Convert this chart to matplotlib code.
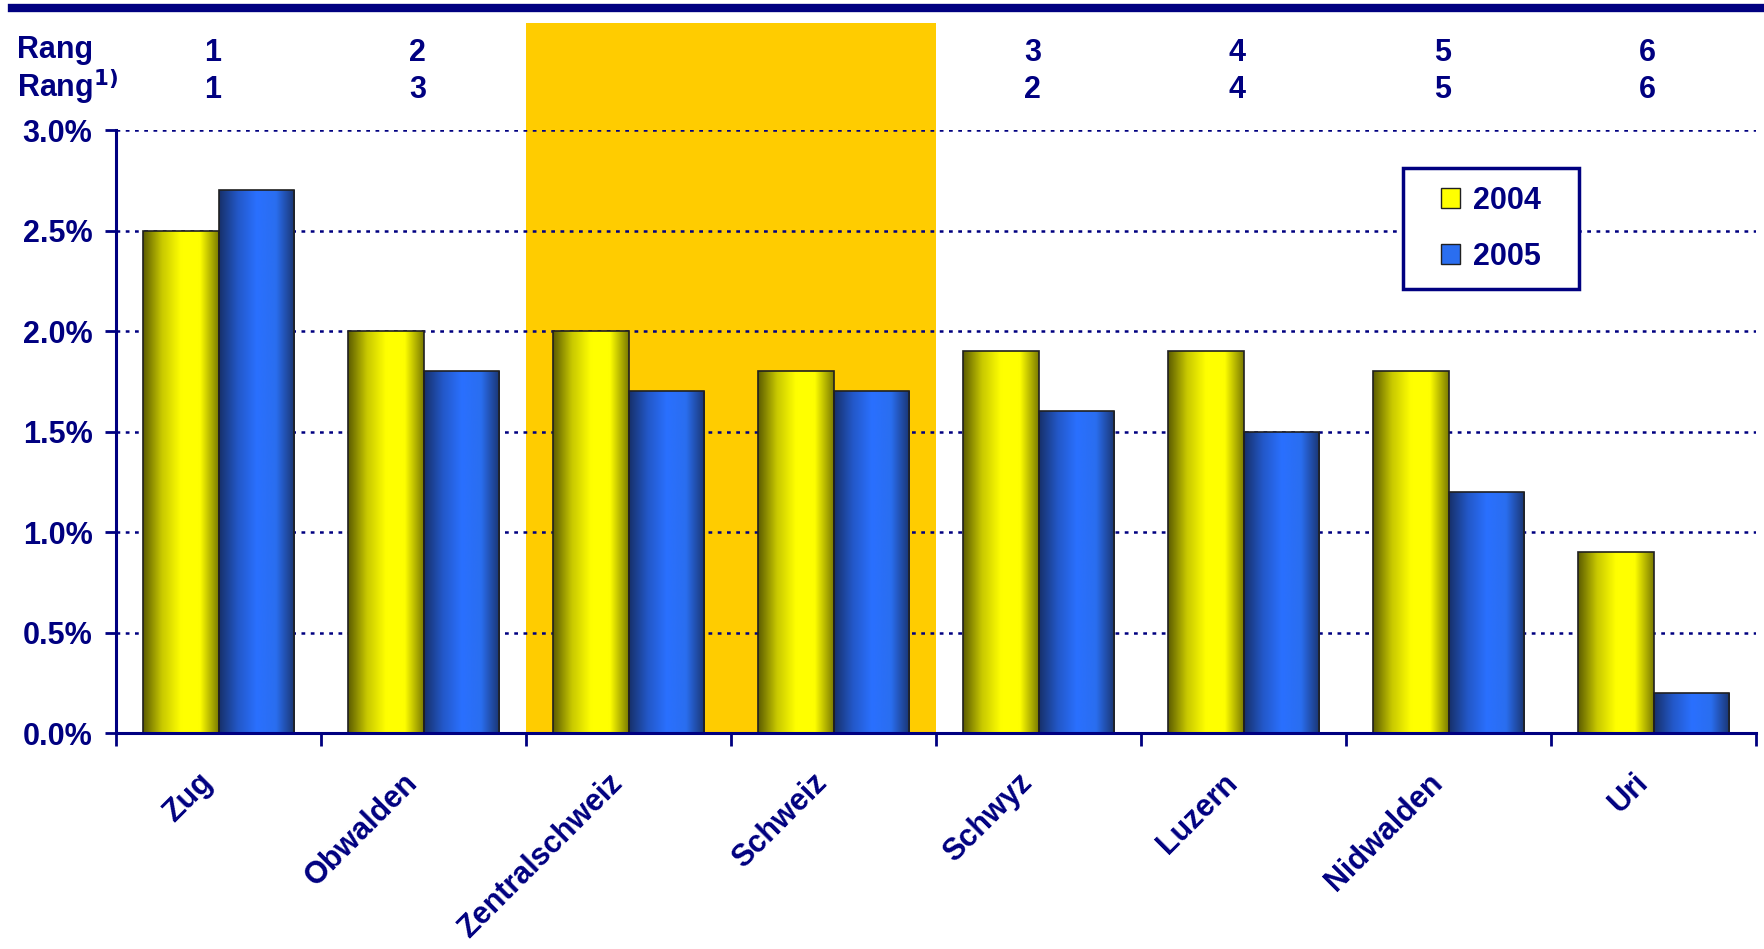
import numpy as np
import matplotlib.pyplot as plt
from matplotlib.patches import Rectangle, Patch
from matplotlib.colors import LinearSegmentedColormap

plt.rcParams['font.family'] = ['Liberation Sans', 'DejaVu Sans']

categories = ["Zug", "Obwalden", "Zentralschweiz", "Schweiz", "Schwyz", "Luzern", "Nidwalden", "Uri"]
v2004 = [2.5, 2.0, 2.0, 1.8, 1.9, 1.9, 1.8, 0.9]
v2005 = [2.7, 1.8, 1.7, 1.7, 1.6, 1.5, 1.2, 0.2]
rang = ["1", "2", "", "", "3", "4", "5", "6"]
rang1 = ["1", "3", "", "", "2", "4", "5", "6"]
yticks = [0.0, 0.5, 1.0, 1.5, 2.0, 2.5, 3.0]

navy = "#000080"
fs = 22
cmap_y = LinearSegmentedColormap.from_list("y", ["#5c5c00", "#c8c800", "#ffff00", "#ffff00", "#7a7a00"])
cmap_b = LinearSegmentedColormap.from_list("b", ["#17306a", "#2358c8", "#2a70ff", "#2a6ef0", "#1a3470"])

fig = plt.figure(figsize=(17.64, 9.49), dpi=100)
ax = fig.add_axes([0.0658, 0.2276, 0.9297, 0.6354])

x = np.arange(len(categories))
w = 0.368

# highlighted block behind Zentralschweiz / Schweiz
ax.add_patch(Rectangle((1.5, 0), 2.0, 3.53, facecolor="#ffcc00", edgecolor="none",
                       zorder=0, clip_on=False))

for yv in yticks[1:]:
    ax.axhline(yv, color=navy, lw=1.8, ls=(0, (1.5, 2.2)), zorder=1)

bars1 = ax.bar(x - w / 2, v2004, w, color="#ffff00", edgecolor="#202020", lw=1.2, zorder=3)
bars2 = ax.bar(x + w / 2, v2005, w, color="#2a6ef0", edgecolor="#202020", lw=1.2, zorder=3)

grad = np.linspace(0, 1, 256).reshape(1, -1)
for bars, cm in ((bars1, cmap_y), (bars2, cmap_b)):
    for b in bars:
        x0, h = b.get_x(), b.get_height()
        im = ax.imshow(grad, cmap=cm, extent=[x0, x0 + b.get_width(), 0, h],
                       aspect="auto", zorder=2.5, interpolation="bicubic")
        im.set_clip_path(b)
        b.set_facecolor("none")

ax.set_xlim(-0.5, 7.5)
ax.set_ylim(0, 3.0)

ax.set_yticks(yticks)
ax.set_yticklabels([f"{t:.1f}%" for t in yticks])
ax.set_xticks(x)
ax.set_xticklabels(categories, rotation=45, ha="right")
ax.set_xticks(np.arange(-0.5, 8.0, 1.0), minor=True)
ax.tick_params(axis="x", which="major", length=0, pad=25)
ax.tick_params(axis="x", which="minor", length=9, width=2, color=navy, direction="out")
ax.tick_params(axis="y", length=8, width=2, color=navy, direction="out", pad=9)
for lab in ax.get_xticklabels() + ax.get_yticklabels():
    lab.set_fontsize(fs)
    lab.set_fontweight("bold")
    lab.set_color(navy)

for s in ("top", "right"):
    ax.spines[s].set_visible(False)
for s in ("left", "bottom"):
    ax.spines[s].set_color(navy)
    ax.spines[s].set_linewidth(2.2)
    ax.spines[s].set_zorder(4)

# rank rows above plot
trans = ax.get_xaxis_transform()
for i in range(len(categories)):
    ax.text(x[i] - 0.03, 1.128, rang[i], transform=trans, ha="center", va="center",
            fontsize=fs, fontweight="bold", color=navy)
    ax.text(x[i] - 0.03, 1.067, rang1[i], transform=trans, ha="center", va="center",
            fontsize=fs, fontweight="bold", color=navy)
fig.text(0.0096, 0.947, "Rang", ha="left", va="center", fontsize=fs, fontweight="bold", color=navy)
fig.text(0.0096, 0.909, r"Rang$^{\mathbf{1)}}$", ha="left", va="center", fontsize=fs,
         fontweight="bold", color=navy)

# top rule
fig.add_artist(plt.Line2D([0.007, 1.0], [0.9915, 0.9915], color=navy, lw=6))

# legend box
ax.add_patch(Rectangle((0.785, 0.736), 0.107, 0.201, transform=ax.transAxes,
                       facecolor="white", edgecolor=navy, lw=2.5, zorder=5))
handles = [Patch(facecolor="#ffff00", edgecolor="#202020"),
           Patch(facecolor="#2a6ef0", edgecolor="#202020")]
leg = ax.legend(handles, ["2004", "2005"], loc="center",
                bbox_to_anchor=(0.8385, 0.8365), frameon=False,
                handlelength=0.6, handleheight=0.6, handletextpad=0.45,
                labelspacing=0.85, borderpad=0.0,
                prop={"size": fs, "weight": "bold"})
for t in leg.get_texts():
    t.set_color(navy)
leg.set_zorder(6)

fig.savefig("out.png", dpi=100)
